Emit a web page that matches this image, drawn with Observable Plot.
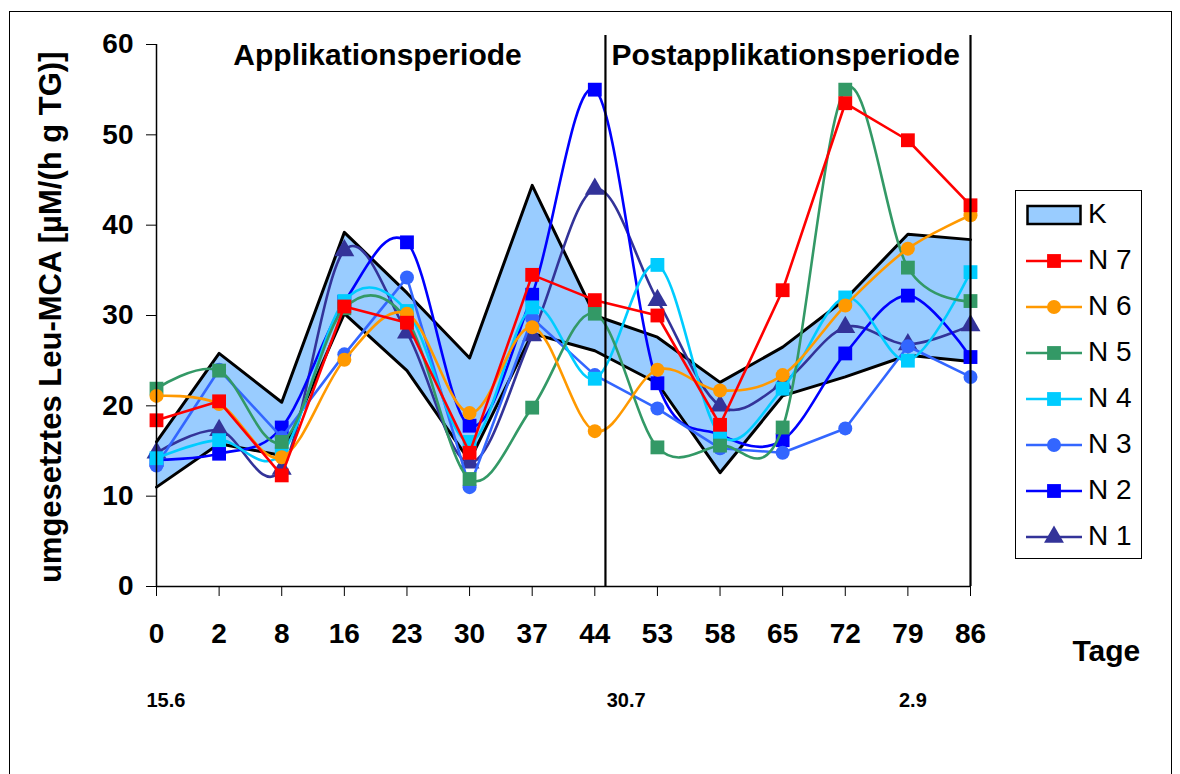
<!DOCTYPE html>
<html>
<head>
<meta charset="utf-8">
<script src="https://cdn.jsdelivr.net/npm/d3@7"></script>
<script src="https://cdn.jsdelivr.net/npm/@observablehq/plot@0.6"></script>
<style>
  body { margin: 0; background: #fff; font-family: Arial, "Liberation Sans", sans-serif; }
  #wrap { position: relative; width: 1180px; height: 774px; overflow: hidden; background: #fff; }
  #frame { position: absolute; left: 9px; top: 11px; width: 1163px; height: 820px; border: 1.5px solid #000; box-sizing: border-box; }
  #chart { position: absolute; left: 0; top: 0; }
  #legend { position: absolute; left: 1015px; top: 190px; width: 127px; height: 369px; border: 1.5px solid #000; box-sizing: border-box; background: #fff; }
  .lrow { position: absolute; left: 0; height: 40px; display: flex; align-items: center; }
  .lrow span { font-size: 28px; color: #000; margin-left: 4px; font-family: Arial, "Liberation Sans", sans-serif; }
  svg text { font-family: Arial, "Liberation Sans", sans-serif; }
</style>
</head>
<body>
<div id="wrap">
  <div id="frame"></div>
  <div id="chart"></div>
  <div id="legend"></div>
</div>
<script>
// ---- data ----
const categories = ["0","2","8","16","23","30","37","44","53","58","65","72","79","86"];
const yTicks = [0, 10, 20, 30, 40, 50, 60];

const kLow  = [11.0, 15.8, 14.5, 30.2, 23.9, 13.9, 28.0, 26.1, 22.5, 12.6, 21.1, 23.2, 25.6, 24.9];
const kHigh = [16.0, 25.8, 20.4, 39.2, 32.5, 25.3, 44.4, 30.0, 27.6, 22.6, 26.5, 31.8, 39.0, 38.4];

const n7 = [18.4, 20.5, 12.3, 31.0, 29.2, 14.8, 34.5, 31.7, 30.0, 17.9, 32.8, 53.5, 49.4, 42.2];
const n6 = [21.1, 20.2, 14.3, 25.1, 30.2, 19.2, 28.7, 17.2, 24.0, 21.7, 23.4, 31.1, 37.4, 41.1];
const n5 = [21.9, 23.9, 16.0, 30.8, 29.5, 11.9, 19.8, 30.2, 15.4, 15.6, 17.6, 55.0, 35.3, 31.6];
const n4 = [14.2, 16.2, 14.7, 31.6, 30.5, 16.0, 30.9, 23.0, 35.6, 16.8, 21.9, 32.0, 25.0, 34.8];
const n3 = [13.4, 24.0, 16.5, 25.7, 34.2, 11.0, 29.7, 23.4, 19.7, 15.3, 14.8, 17.5, 26.6, 23.2];
const n2 = [14.0, 14.7, 17.6, 31.5, 38.1, 17.8, 32.3, 55.0, 22.5, 16.8, 16.2, 25.8, 32.2, 25.4];
const n1 = [14.8, 17.3, 13.0, 37.2, 28.1, 13.7, 27.8, 44.0, 31.7, 20.0, 22.5, 28.7, 26.8, 28.9];

const seriesNames   = ["N 1", "N 2", "N 3", "N 4", "N 5", "N 6", "N 7"];
const seriesValues  = [n1, n2, n3, n4, n5, n6, n7];
const seriesColors  = ["#333399", "#0000FF", "#3366FF", "#00CCFF", "#339966", "#FF9900", "#FF0000"];
const seriesSymbols = ["triangle", "square", "circle", "square", "square", "circle", "square"];
const seriesSmooth  = [true, true, false, true, true, true, false];

const periodLabels = ["Applikationsperiode", "Postapplikationsperiode"];
const periodCenters = [3.53, 10.05];      // category index positions
const separators = [7.17, 13];            // category index positions
const dateLabels = ["15.6", "30.7", "2.9"];
const dateCenters = [0.15, 7.5, 12.08];
const yTitle = "umgesetztes Leu-MCA [µM/(h g TG)]";
const xTitle = "Tage";

// ---- build tables ----
const kRows = categories.map((c, i) => ({i, lo: kLow[i], hi: kHigh[i]}));
const symR = {square: 7.8, circle: 7, triangle: 7.4};

const seriesMarks = [];
seriesNames.forEach((name, s) => {
  const rows = seriesValues[s].map((v, i) => ({i, v}));
  seriesMarks.push(Plot.lineY(rows, {
    x: "i", y: "v", stroke: seriesColors[s], strokeWidth: 2.6,
    curve: seriesSmooth[s] ? "cardinal" : "linear", tension: 0
  }));
  seriesMarks.push(Plot.dot(rows, {
    x: "i", y: "v", fill: seriesColors[s], stroke: "none",
    symbol: seriesSymbols[s], r: symR[seriesSymbols[s]]
  }));
});

const chart = Plot.plot({
  width: 1180, height: 774,
  marginLeft: 156, marginRight: 210, marginTop: 44, marginBottom: 188,
  x: {type: "linear", domain: [0, 13], axis: null, label: null},
  y: {domain: [0, 60], axis: null, label: null},
  style: {background: "transparent", overflow: "visible", fontFamily: "Arial, 'Liberation Sans', sans-serif"},
  marks: [
    Plot.areaY(kRows, {x: "i", y1: "lo", y2: "hi", fill: "#99CCFF"}),
    Plot.lineY(kRows, {x: "i", y: "hi", stroke: "#000", strokeWidth: 3}),
    Plot.lineY(kRows, {x: "i", y: "lo", stroke: "#000", strokeWidth: 3}),
    ...seriesMarks,
    Plot.ruleX(separators, {x: d => d, y1: 0, y2: 61, stroke: "#000", strokeWidth: 2.2}),
    Plot.ruleX([0], {y1: 0, y2: 60, stroke: "#000", strokeWidth: 1.5}),
    Plot.ruleY([0], {x1: 0, x2: 13, stroke: "#000", strokeWidth: 1.5}),
    Plot.axisY({ticks: yTicks, label: null, tickSize: 10, tickPadding: 13, fontSize: 28, fontWeight: "bold", stroke: "#000", strokeOpacity: 1, color: "#000"}),
    Plot.axisX({ticks: d3.range(categories.length), label: null, tickFormat: i => categories[i], tickSize: 10, tickPadding: 27, fontSize: 28, fontWeight: "bold", stroke: "#000", strokeOpacity: 1}),
    Plot.text(periodLabels, {x: (d, i) => periodCenters[i], y: 58.8, text: d => d, fontSize: 30, fontWeight: "bold", fill: "#000", lineAnchor: "middle"}),
    Plot.text(dateLabels, {x: (d, i) => dateCenters[i], y: -12.6, text: d => d, fontSize: 20, fontWeight: "bold", fill: "#000", lineAnchor: "middle"}),
    Plot.text([xTitle], {x: 15.17, y: -7.2, text: d => d, fontSize: 30, fontWeight: "bold", fill: "#000", lineAnchor: "middle"}),
    Plot.text([yTitle], {x: -1.69, y: 29.8, text: d => d, rotate: -90, fontSize: 31, fontWeight: "bold", fill: "#000", lineAnchor: "middle"})
  ]
});
document.getElementById("chart").appendChild(chart);

// ---- legend ----
const legend = d3.select("#legend");
const legendItems = [{label: "K", kind: "area"}].concat(
  seriesNames.map((n, s) => ({label: n, kind: "series", s})).reverse()
);
legendItems.forEach((it, k) => {
  const row = legend.append("div").attr("class", "lrow").style("top", (3 + k * 46) + "px");
  const svg = row.append("svg").attr("width", 68).attr("height", 40);
  if (it.kind === "area") {
    svg.append("rect").attr("x", 11.5).attr("y", 12).attr("width", 53).attr("height", 18)
      .attr("fill", "#99CCFF").attr("stroke", "#000").attr("stroke-width", 2.5);
  } else {
    svg.append("line").attr("x1", 10).attr("x2", 66).attr("y1", 21).attr("y2", 21)
      .attr("stroke", seriesColors[it.s]).attr("stroke-width", 2.6);
    const sym = {square: d3.symbolSquare, circle: d3.symbolCircle, triangle: d3.symbolTriangle}[seriesSymbols[it.s]];
    const r = symR[seriesSymbols[it.s]];
    svg.append("path").attr("transform", "translate(38,21)")
      .attr("d", d3.symbol(sym, Math.PI * r * r)()).attr("fill", seriesColors[it.s]);
  }
  row.append("span").text(it.label);
});
</script>
</body>
</html>
